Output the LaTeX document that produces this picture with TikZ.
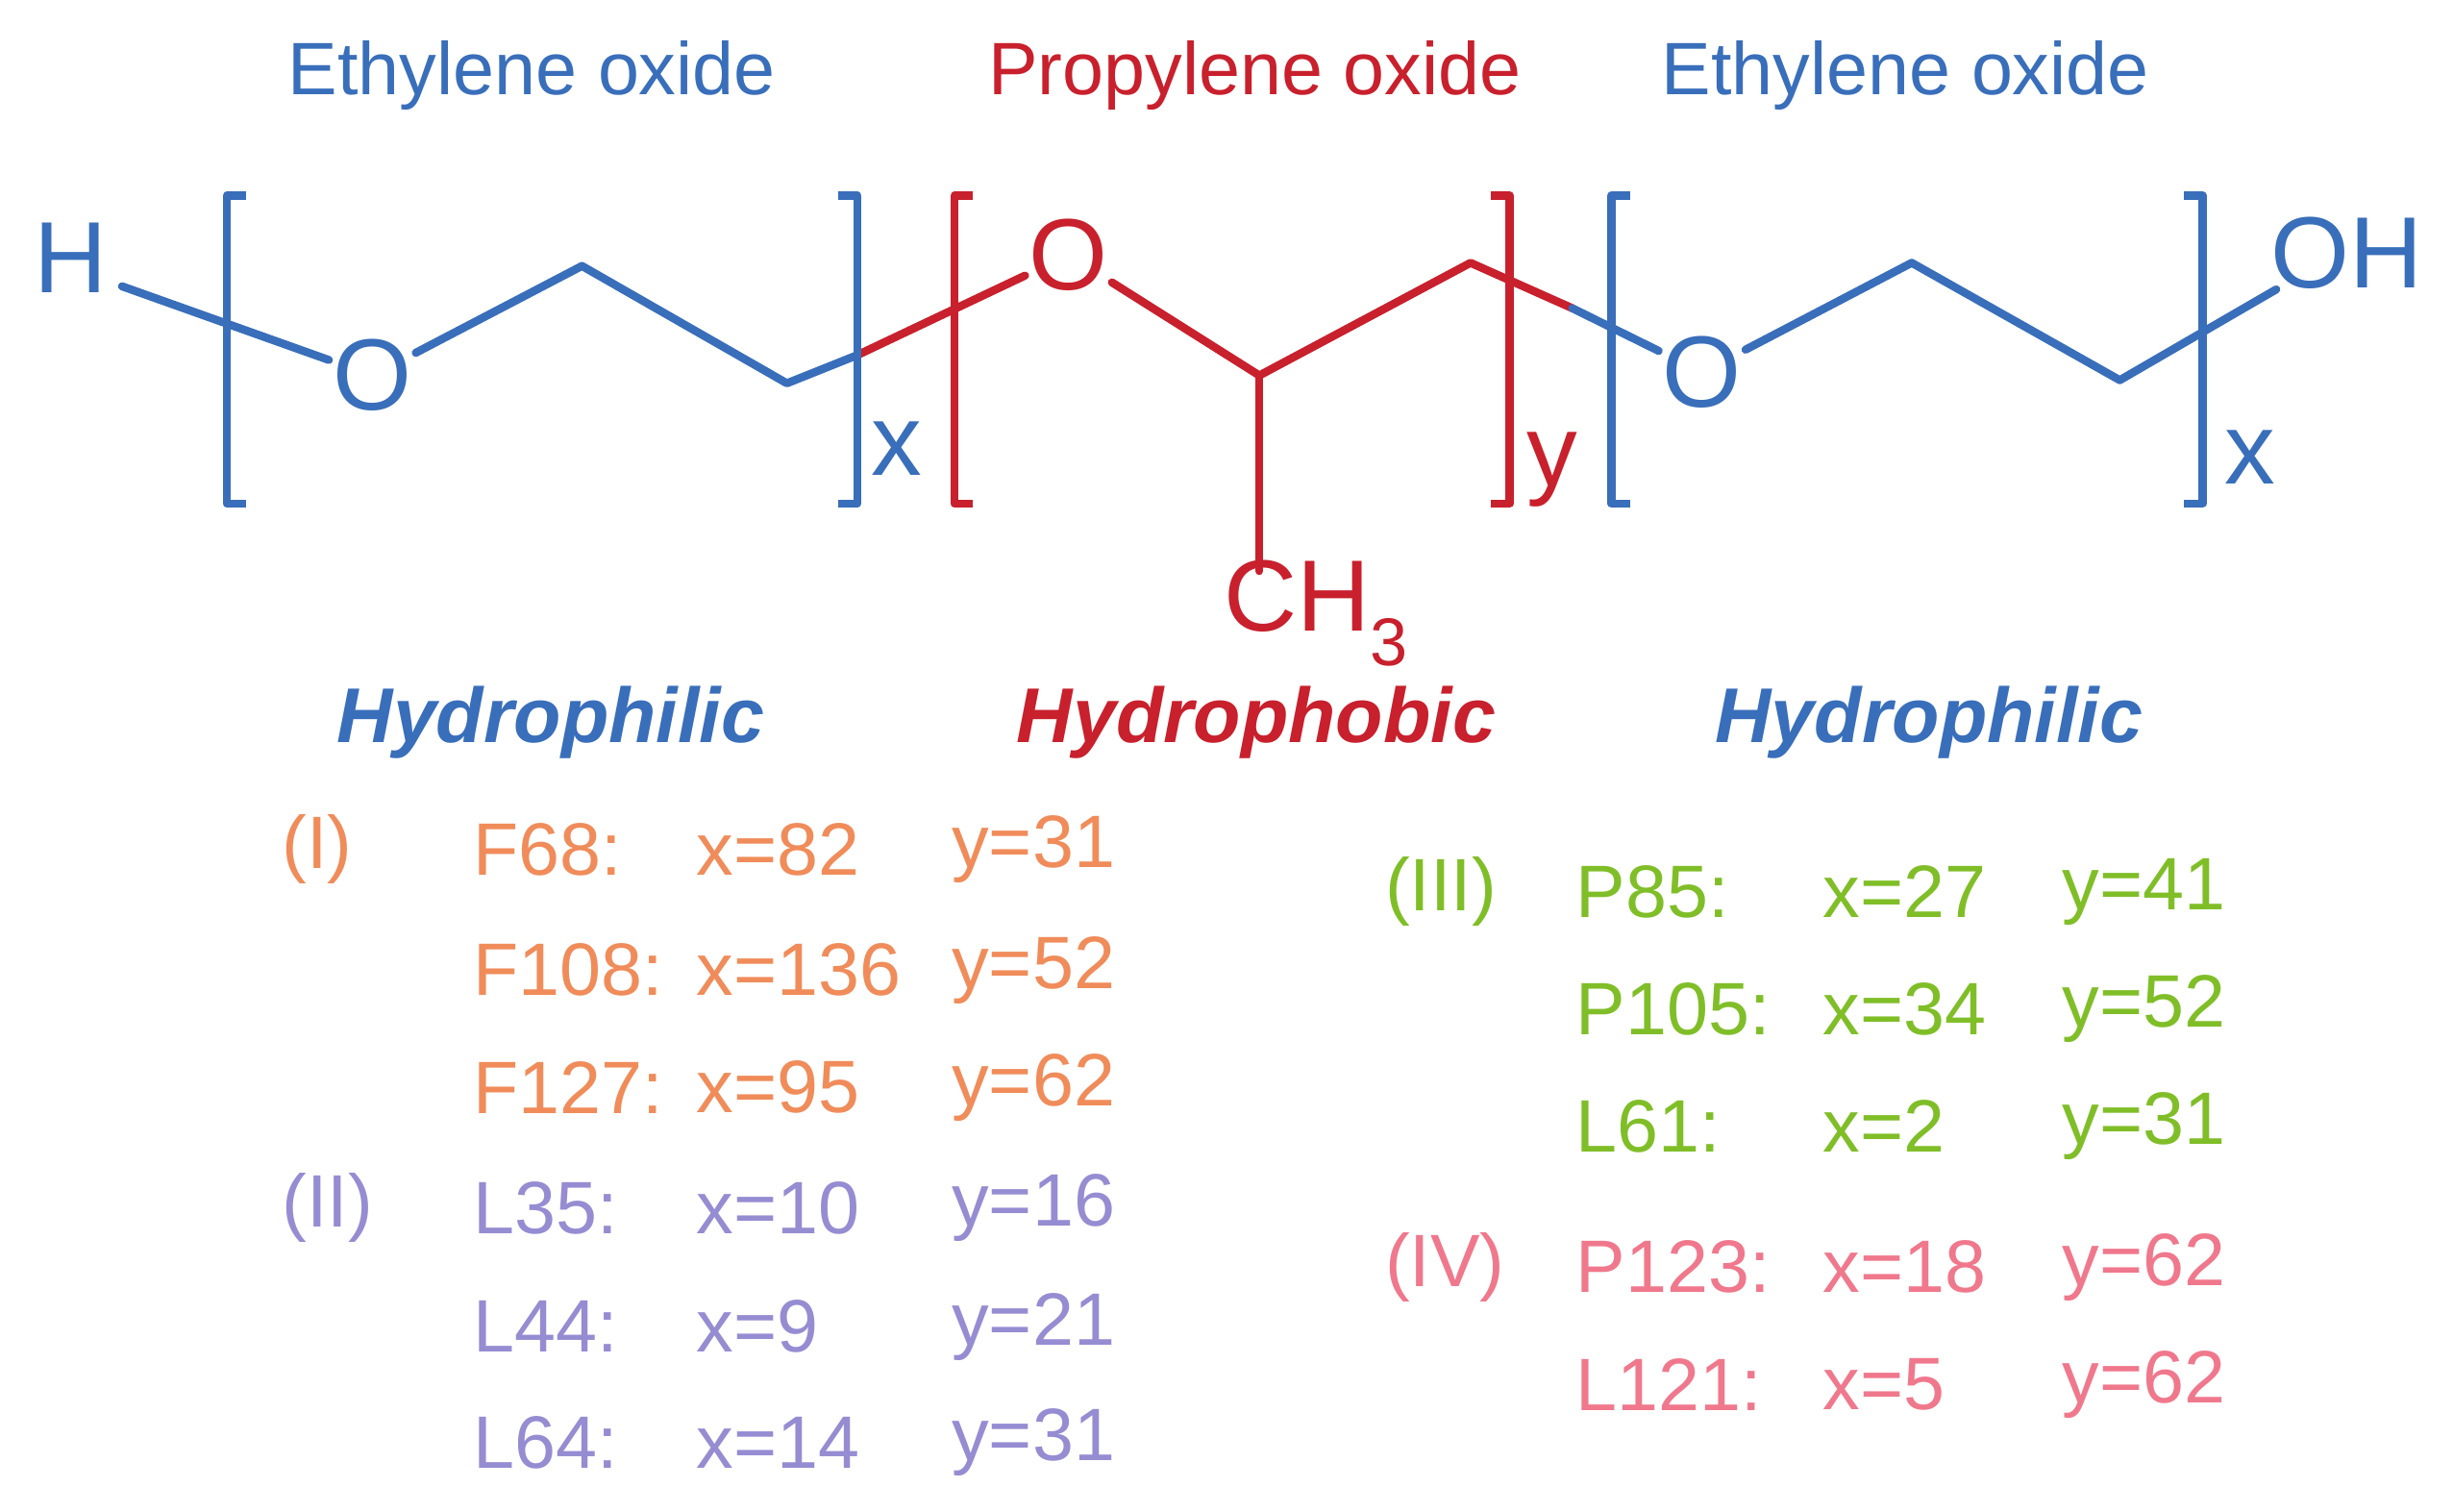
\documentclass[tikz,border=0pt]{standalone}
\usepackage{fontspec}
\setmainfont{Liberation Sans}
\definecolor{cb}{RGB}{57,110,186}
\definecolor{cr}{RGB}{200,32,44}
\definecolor{co}{RGB}{240,140,90}
\definecolor{cp}{RGB}{150,140,210}
\definecolor{cg}{RGB}{128,190,40}
\definecolor{ck}{RGB}{240,120,140}
\tikzset{bond/.style={line width=2.4pt,line cap=round,line join=round},
 atom/.style={font=\fontsize{30}{30}\selectfont,inner sep=1pt},
 ttl/.style={font=\fontsize{22}{24}\selectfont},
 hyd/.style={font=\fontsize{23}{26}\selectfont\bfseries\itshape},
 tb/.style={font=\fontsize{22}{24}\selectfont,anchor=west,inner sep=0pt}}
\begin{document}
\begin{tikzpicture}[x=0.01628cm,y=-0.01628cm]
\useasboundingbox (0,0) rectangle (1568,966);
% titles
\node[ttl,cb] (t1) at (340,48) {Ethylene oxide};
\node[ttl,cr] (t2) at (802,48) {Propylene oxide};
\node[ttl,cb] (t3) at (1218,48) {Ethylene oxide};
% atoms
\node[atom,cb] (H) at (45,165) {H};
\node[atom,cb] (O1) at (238,240) {O};
\node[atom,cr] (O2) at (683,163) {O};
\node[atom,cb] (O3) at (1088,238) {O};
\node[atom,cb] (OH) at (1500,162) {OH};
\node[atom,cr,anchor=west] (CH) at (780,392) {CH\raisebox{-0.35em}{\fontsize{20}{20}\selectfont 3}};
\node[atom,cb] (x1) at (573,287) {x};
\node[atom,cr] (y1) at (992,300) {y};
\node[atom,cb] (x2) at (1438,292) {x};
% bonds
\draw[bond,cb] (78,183) -- (O1);
\draw[bond,cb] (O1) -- (372,170) -- (503,245) -- (548,227);
\draw[bond,cr] (548,227) -- (O2);
\draw[bond,cr] (O2) -- (805,240) -- (940,168) -- (1005,197);
\draw[bond,cr] (805,240) -- (805,365);
\draw[bond,cb] (1005,197) -- (O3);
\draw[bond,cb] (O3) -- (1222,168) -- (1355,243) -- (1455,185);
% brackets
\foreach \x/\c/\d in {145/cb/1,548/cb/-1,610/cr/1,965/cr/-1,1030/cb/1,1408/cb/-1}
  \draw[bond,\c,line cap=butt] (\x+\d*12,125) -- (\x,125) -- (\x,322) -- (\x+\d*12,322);
% hydro
\node[hyd,cb] (h1) at (352,462) {Hydrophilic};
\node[hyd,cr] (h2) at (803,462) {Hydrophobic};
\node[hyd,cb] (h3) at (1233,462) {Hydrophilic};
% table left
\node[tb,co] (g1) at (180,543) {(I)};
\node[tb,cp] (g2) at (180,772) {(II)};
\foreach \n/\a/\b/\y/\c in {F68:/82/31/543/co,F108:/136/52/620/co,F127:/95/62/695/co,L35:/10/16/772/cp,L44:/9/21/848/cp,L64:/14/31/922/cp}{
  \node[tb,\c] at (302,\y) {\n};
  \node[tb,\c] at (445,\y) {x=\a};
  \node[tb,\c] at (608,\y) {y=\b};}
\node[tb,cg] (g3) at (885,570) {(III)};
\node[tb,ck] (g4) at (885,810) {(IV)};
\foreach \n/\a/\b/\y/\c in {P85:/27/41/570/cg,P105:/34/52/645/cg,L61:/2/31/720/cg,P123:/18/62/810/ck,L121:/5/62/885/ck}{
  \node[tb,\c] at (1007,\y) {\n};
  \node[tb,\c] at (1165,\y) {x=\a};
  \node[tb,\c] at (1318,\y) {y=\b};}
\end{tikzpicture}
\end{document}
